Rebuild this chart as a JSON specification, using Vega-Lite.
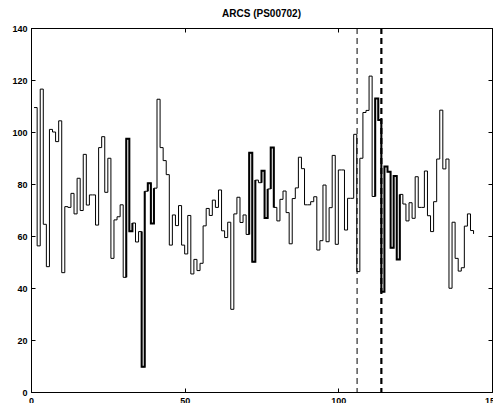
{
  "$schema": "https://vega.github.io/schema/vega-lite/v6.json",
  "width": 461,
  "height": 364,
  "autosize": {"type": "none"},
  "padding": {"left": 31, "top": 28, "right": 1, "bottom": 11},
  "background": "white",
  "title": {"text": "ARCS (PS00702)", "font": "Liberation Sans", "fontSize": 10, "fontWeight": "bold", "color": "#000", "offset": 5, "anchor": "middle"},
  "config": {
    "view": {"stroke": "#000", "strokeWidth": 1},
    "axis": {"domainColor": "#000", "tickColor": "#000", "tickSize": -4, "labelFont": "Liberation Sans", "labelFontSize": 9, "labelFontWeight": "bold", "labelColor": "#000", "grid": false, "labelPadding": 8}
  },
  "datasets": {
    "profile": [
      {"pos":1,"score":109.4},{"pos":2,"score":56.2},{"pos":3,"score":116.5},{"pos":4,"score":64.5},{"pos":5,"score":48.2},
      {"pos":6,"score":101},{"pos":7,"score":100},{"pos":8,"score":96.3},{"pos":9,"score":104.3},{"pos":10,"score":45.9},
      {"pos":11,"score":71.3},{"pos":12,"score":71},{"pos":13,"score":76.4},{"pos":14,"score":68.5},{"pos":15,"score":82.2},
      {"pos":16,"score":69.8},{"pos":17,"score":91.4},{"pos":18,"score":71.9},{"pos":19,"score":75.8},{"pos":20,"score":75.8},
      {"pos":21,"score":64.2},{"pos":22,"score":94},{"pos":23,"score":98.2},{"pos":24,"score":76.8},{"pos":25,"score":89.9},
      {"pos":26,"score":51.4},{"pos":27,"score":66.2},{"pos":28,"score":67.4},{"pos":29,"score":72},{"pos":30,"score":44.1},
      {"pos":31,"score":97.4},{"pos":32,"score":61.8},{"pos":33,"score":65},{"pos":34,"score":57.7},{"pos":35,"score":61.7},
      {"pos":36,"score":9.7},{"pos":37,"score":77.2},{"pos":38,"score":80.3},{"pos":39,"score":64.8},{"pos":40,"score":78.4},
      {"pos":41,"score":112.6},{"pos":42,"score":94},{"pos":43,"score":89},{"pos":44,"score":83.6},{"pos":45,"score":56.5},
      {"pos":46,"score":68.1},{"pos":47,"score":64},{"pos":48,"score":71.7},{"pos":49,"score":56.5},{"pos":50,"score":53.1},
      {"pos":51,"score":67.9},{"pos":52,"score":45.4},{"pos":53,"score":51},{"pos":54,"score":46.7},{"pos":55,"score":49.5},
      {"pos":56,"score":63.9},{"pos":57,"score":70.6},{"pos":58,"score":67.9},{"pos":59,"score":73.8},{"pos":60,"score":71},
      {"pos":61,"score":77.7},{"pos":62,"score":62},{"pos":63,"score":59.4},{"pos":64,"score":65.3},{"pos":65,"score":31.8},
      {"pos":66,"score":68.5},{"pos":67,"score":74.9},{"pos":68,"score":65.2},{"pos":69,"score":68.1},{"pos":70,"score":60.6},
      {"pos":71,"score":92},{"pos":72,"score":50.1},{"pos":73,"score":81.5},{"pos":74,"score":80.5},{"pos":75,"score":85.1},
      {"pos":76,"score":66.9},{"pos":77,"score":78.1},{"pos":78,"score":94},{"pos":79,"score":71},{"pos":80,"score":65.8},
      {"pos":81,"score":74.1},{"pos":82,"score":77.3},{"pos":83,"score":69},{"pos":84,"score":57},{"pos":85,"score":74.4},
      {"pos":86,"score":78.5},{"pos":87,"score":90.3},{"pos":88,"score":85.9},{"pos":89,"score":72},{"pos":90,"score":72},
      {"pos":91,"score":73.2},{"pos":92,"score":75.1},{"pos":93,"score":54.6},{"pos":94,"score":58.2},{"pos":95,"score":79.6},
      {"pos":96,"score":57.8},{"pos":97,"score":70.9},{"pos":98,"score":91},{"pos":99,"score":56.8},{"pos":100,"score":85.4},
      {"pos":101,"score":85.4},{"pos":102,"score":62.3},{"pos":103,"score":74.5},{"pos":104,"score":74.5},{"pos":105,"score":99.1},
      {"pos":106,"score":46.3},{"pos":107,"score":89.9},{"pos":108,"score":107.5},{"pos":109,"score":108.3},{"pos":110,"score":121.5},
      {"pos":111,"score":75.2},{"pos":112,"score":112.9},{"pos":113,"score":104.6},{"pos":114,"score":38.6},{"pos":115,"score":86.7},
      {"pos":116,"score":84.7},{"pos":117,"score":55.5},{"pos":118,"score":83.1},{"pos":119,"score":51},{"pos":120,"score":76},
      {"pos":121,"score":72.3},{"pos":122,"score":65.8},{"pos":123,"score":72.8},{"pos":124,"score":66.8},{"pos":125,"score":82.8},
      {"pos":126,"score":71},{"pos":127,"score":71},{"pos":128,"score":85},{"pos":129,"score":67.8},{"pos":130,"score":61.7},
      {"pos":131,"score":73.2},{"pos":132,"score":89.6},{"pos":133,"score":108.4},{"pos":134,"score":85.8},{"pos":135,"score":89.6},
      {"pos":136,"score":39.9},{"pos":137,"score":65.3},{"pos":138,"score":51.4},{"pos":139,"score":46.5},{"pos":140,"score":47.8},
      {"pos":141,"score":63.8},{"pos":142,"score":68.5},{"pos":143,"score":62.1},{"pos":144,"score":60.8}
    ],
    "bold": [
      {"k":1,"seg":"a","pos":31,"score":44.1},{"k":2,"seg":"a","pos":31,"score":97.4},{"k":3,"seg":"a","pos":32,"score":61.8},{"k":4,"seg":"a","pos":33,"score":65},
      {"k":5,"seg":"b","pos":36,"score":61.7},{"k":6,"seg":"b","pos":36,"score":9.7},{"k":7,"seg":"b","pos":37,"score":77.2},
      {"k":8,"seg":"c","pos":38,"score":77.2},{"k":9,"seg":"c","pos":38,"score":80.3},{"k":10,"seg":"c","pos":39,"score":64.8},{"k":11,"seg":"c","pos":40,"score":78.4},
      {"k":12,"seg":"d","pos":71,"score":60.6},{"k":13,"seg":"d","pos":71,"score":92},{"k":14,"seg":"d","pos":72,"score":50.1},{"k":15,"seg":"d","pos":73,"score":81.5},
      {"k":16,"seg":"e","pos":75,"score":80.5},{"k":17,"seg":"e","pos":75,"score":85.1},{"k":18,"seg":"e","pos":76,"score":66.9},{"k":19,"seg":"e","pos":77,"score":78.1},
      {"k":20,"seg":"f","pos":78,"score":78.1},{"k":21,"seg":"f","pos":78,"score":94},{"k":22,"seg":"f","pos":79,"score":71},
      {"k":23,"seg":"g","pos":112,"score":75.2},{"k":24,"seg":"g","pos":112,"score":112.9},{"k":25,"seg":"g","pos":113,"score":104.6},{"k":26,"seg":"g","pos":114,"score":38.6},
      {"k":27,"seg":"g","pos":115,"score":86.7},{"k":28,"seg":"g","pos":116,"score":84.7},{"k":29,"seg":"g","pos":117,"score":55.5},{"k":30,"seg":"g","pos":118,"score":83.1},
      {"k":31,"seg":"g","pos":119,"score":51},{"k":32,"seg":"g","pos":120,"score":76}
    ],
    "marks": [
      {"pos":106.1,"kind":"thin"},{"pos":114.0,"kind":"thick"}
    ]
  },
  "layer": [
    {
      "data": {"name": "profile"},
      "mark": {"type": "line", "interpolate": "step-after", "color": "#000", "strokeWidth": 1},
      "encoding": {
        "x": {"field": "pos", "type": "quantitative", "scale": {"domain": [0, 150], "nice": false, "zero": false},
              "axis": {"orient": "bottom", "values": [0, 50, 100, 150], "title": null, "labelFlush": false}},
        "y": {"field": "score", "type": "quantitative", "scale": {"domain": [0, 140], "nice": false},
              "axis": {"orient": "left", "values": [0, 20, 40, 60, 80, 100, 120, 140], "title": null}}
      }
    },
    {
      "data": {"name": "bold"},
      "mark": {"type": "line", "interpolate": "step-after", "color": "#000", "strokeWidth": 2},
      "encoding": {
        "x": {"field": "pos", "type": "quantitative",
              "axis": {"orient": "top", "values": [0, 50, 100, 150], "title": null, "labels": false}},
        "y": {"field": "score", "type": "quantitative",
              "axis": {"orient": "right", "values": [0, 20, 40, 60, 80, 100, 120, 140], "title": null, "labels": false}},
        "detail": {"field": "seg", "type": "nominal"},
        "order": {"field": "k", "type": "quantitative"}
      }
    },
    {
      "data": {"name": "marks"},
      "mark": {"type": "rule", "color": "#000", "strokeDash": [6, 4]},
      "encoding": {
        "x": {"field": "pos", "type": "quantitative", "axis": null},
        "strokeWidth": {"field": "kind", "type": "nominal", "scale": {"domain": ["thin", "thick"], "range": [1, 2.2]}, "legend": null}
      }
    }
  ],
  "resolve": {"axis": {"x": "independent", "y": "independent"}}
}
